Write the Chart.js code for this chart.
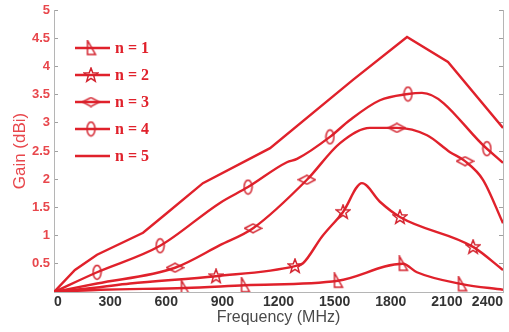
<!DOCTYPE html>
<html>
<head>
<meta charset="utf-8">
<script src="https://cdn.jsdelivr.net/npm/chart.js@4"></script>
<style>
  html, body { margin: 0; padding: 0; background: #fff; }
  #wrap { width: 509px; height: 332px; }
</style>
</head>
<body>
<div id="wrap"><canvas id="gainChart"></canvas></div>
<script>
// axis ranges / ticks
const xMax = 2400, xStep = 300;
const yMax = 5, yStep = 0.5;

// series (frequency in MHz, gain in dBi)
const n1Freq = [0, 250, 700, 1021, 1518, 1865, 1940, 2181, 2400];
const n1Gain = [0, 0.04, 0.07, 0.12, 0.20, 0.50, 0.35, 0.14, 0.04];
const n1Marks = [2, 3, 4, 5, 7];

const n2Freq = [0, 230, 406, 866, 1288, 1331, 1432, 1545, 1646, 1742, 1849, 2240, 2400];
const n2Gain = [0, 0.08, 0.15, 0.28, 0.46, 0.51, 0.98, 1.42, 1.93, 1.60, 1.33, 0.80, 0.39];
const n2Marks = [3, 4, 7, 10, 11];

const n3Freq = [0, 230, 647, 887, 1064, 1352, 1529, 1689, 1833, 1994, 2117, 2197, 2293, 2400];
const n3Gain = [0, 0.15, 0.43, 0.83, 1.13, 1.99, 2.64, 2.91, 2.91, 2.78, 2.48, 2.32, 1.99, 1.22];
const n3Marks = [2, 4, 5, 8, 11];

const n4Freq = [0, 230, 567, 887, 1037, 1245, 1299, 1475, 1582, 1742, 1892, 1967, 2314, 2400];
const n4Gain = [0, 0.35, 0.82, 1.58, 1.86, 2.30, 2.36, 2.75, 3.05, 3.40, 3.51, 3.53, 2.54, 2.29];
const n4Marks = [1, 2, 4, 7, 10, 12];

const n5Freq = [0, 112, 230, 476, 604, 796, 1155, 1598, 1887, 2106, 2400];
const n5Gain = [0, 0.39, 0.66, 1.05, 1.40, 1.93, 2.55, 3.76, 4.52, 4.08, 2.91];
const n5Marks = [];

const seriesLabels = ["n = 1", "n = 2", "n = 3", "n = 4", "n = 5"];

const RED = "#e0212b";
const MARK = "#d3232e";

// little hollow marker images used as point styles
function makeMarker(kind) {
  const c = document.createElement("canvas");
  const g = c.getContext("2d");
  if (kind === "tri") { c.width = 15; c.height = 17; }
  else if (kind === "star") { c.width = 16; c.height = 16; }
  else if (kind === "diamond") { c.width = 19; c.height = 11; }
  else { c.width = 11; c.height = 17; }
  g.strokeStyle = MARK;
  g.lineWidth = 1.5;
  g.beginPath();
  if (kind === "tri") {
    g.moveTo(4, 1); g.lineTo(4, 15); g.lineTo(12, 15); g.closePath();
  } else if (kind === "star") {
    for (let i = 0; i < 10; i++) {
      const r = i % 2 ? 3 : 7.2;
      const a = -Math.PI / 2 + i * Math.PI / 5;
      const px = 8 + r * Math.cos(a), py = 8.3 + r * Math.sin(a);
      i ? g.lineTo(px, py) : g.moveTo(px, py);
    }
    g.closePath();
  } else if (kind === "diamond") {
    g.moveTo(1, 5.5); g.lineTo(9.5, 1); g.lineTo(18, 5.5); g.lineTo(9.5, 10); g.closePath();
  } else {
    g.ellipse(5.5, 8.5, 4, 7, 0, 0, Math.PI * 2);
  }
  g.stroke();
  return c;
}

function makeSet(label, freq, gain, marks, marker, smooth) {
  return {
    label,
    data: freq.map((f, i) => ({ x: f, y: gain[i] })),
    borderColor: RED,
    borderWidth: 2.4,
    pointStyle: marker || false,
    pointRadius: gain.map((_, i) => marks.includes(i) ? 5 : 0),
    pointBackgroundColor: "transparent",
    pointBorderColor: MARK,
    cubicInterpolationMode: smooth ? "monotone" : "default",
    tension: 0,
    fill: false
  };
}

const markers = {
  tri: makeMarker("tri"),
  star: makeMarker("star"),
  diamond: makeMarker("diamond"),
  ellipse: makeMarker("ellipse")
};

// legend drawn inside the plot, built from the datasets
const insideLegend = {
  id: "insideLegend",
  afterDraw(chart) {
    const ctx = chart.ctx;
    ctx.save();
    chart.data.datasets.forEach((ds, i) => {
      const y = 48 + i * 27;
      ctx.strokeStyle = RED;
      ctx.lineWidth = 2.6;
      ctx.beginPath();
      ctx.moveTo(75, y);
      ctx.lineTo(110, y);
      ctx.stroke();
      if (ds.pointStyle) {
        const m = ds.pointStyle;
        ctx.drawImage(m, 91 - m.width / 2, y - m.height / 2);
      }
      ctx.fillStyle = RED;
      ctx.font = 'bold 16px "Liberation Serif", "Times New Roman", serif';
      ctx.textBaseline = "middle";
      ctx.textAlign = "left";
      ctx.fillText(ds.label, 115, y + 1);
    });
    ctx.restore();
  }
};

new Chart(document.getElementById("gainChart"), {
  type: "line",
  data: {
    datasets: [
      makeSet(seriesLabels[0], n1Freq, n1Gain, n1Marks, markers.tri, true),
      makeSet(seriesLabels[1], n2Freq, n2Gain, n2Marks, markers.star, true),
      makeSet(seriesLabels[2], n3Freq, n3Gain, n3Marks, markers.diamond, true),
      makeSet(seriesLabels[3], n4Freq, n4Gain, n4Marks, markers.ellipse, true),
      makeSet(seriesLabels[4], n5Freq, n5Gain, n5Marks, null, false)
    ]
  },
  options: {
    responsive: true,
    maintainAspectRatio: false,
    animation: false,
    layout: { padding: { top: 10, right: 6, left: 0, bottom: 0 } },
    plugins: { legend: { display: false }, tooltip: { enabled: false } },
    scales: {
      x: {
        type: "linear",
        min: 0,
        max: xMax,
        afterFit(s) { s.height = 40; s.paddingLeft = 0; s.paddingRight = 0; },
        ticks: {
          stepSize: xStep,
          align: "inner",
          padding: 2,
          color: "#333",
          font: { family: "Arial, 'Liberation Sans'", size: 14, weight: "bold" },
          callback: (v) => String(v)
        },
        grid: { drawOnChartArea: false, drawTicks: false },
        border: { display: true, color: "#b5b5b5", width: 1 },
        title: {
          display: true,
          text: "Frequency (MHz)",
          color: "#4a4a4a",
          font: { family: "Arial, 'Liberation Sans'", size: 16 },
          padding: { top: 0, bottom: 5 }
        }
      },
      y: {
        min: 0,
        max: yMax,
        afterFit(s) { s.width = 54; s.paddingTop = 0; s.paddingBottom = 0; },
        ticks: {
          stepSize: yStep,
          padding: 8,
          color: "#e8474c",
          font: { family: "Arial, 'Liberation Sans'", size: 13, weight: "bold" },
          callback: (v) => v === 0 ? "" : String(v)
        },
        grid: { drawOnChartArea: false, drawTicks: true, tickLength: -4, color: "#a0a0a0" },
        border: { display: true, color: "#b5b5b5", width: 1 },
        title: {
          display: true,
          text: "Gain (dBi)",
          color: "#e8474c",
          font: { family: "Arial, 'Liberation Sans'", size: 17 },
          padding: { top: 10, bottom: 0 }
        }
      },
      y2: {
        position: "right",
        min: 0,
        max: yMax,
        afterFit(s) { s.width = 0; s.paddingTop = 0; s.paddingBottom = 0; },
        ticks: { stepSize: yStep, display: false },
        grid: { drawOnChartArea: false, drawTicks: true, tickLength: -4, color: "#a0a0a0" },
        border: { display: true, color: "#b5b5b5", width: 1 }
      }
    }
  },
  plugins: [insideLegend]
});
</script>
</body>
</html>
